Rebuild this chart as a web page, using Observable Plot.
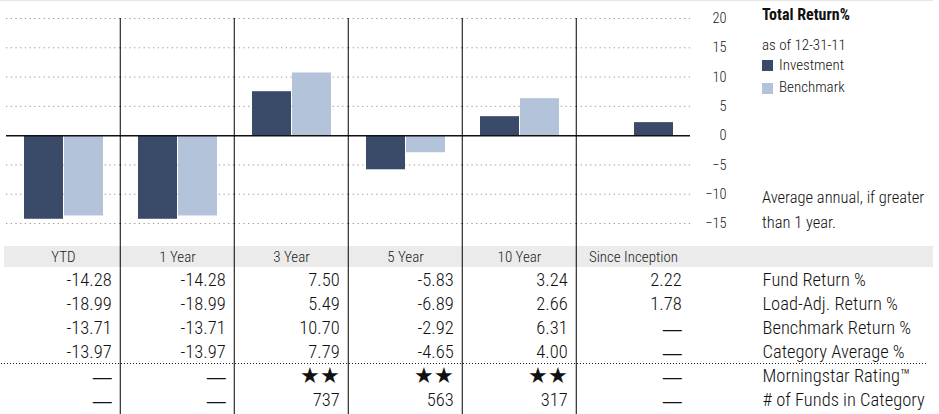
<!DOCTYPE html>
<html>
<head>
<meta charset="utf-8">
<script src="https://cdn.jsdelivr.net/npm/d3@7"></script>
<script src="https://cdn.jsdelivr.net/npm/@observablehq/plot@0.6"></script>
<style>
  body { margin: 0; background: #fff; }
  #wrap { position: relative; width: 939px; height: 414px; overflow: hidden;
          font-family: "Roboto Condensed", "Roboto", sans-serif; font-weight: 300; color: #111; }
  #chart, #table { position: absolute; left: 0; }
  #chart { top: 0; }
  #table { top: 246px; }
  .topline { position: absolute; left: 0; top: 0; width: 933px; height: 1px; background: #e6e6e6; }
  .hdr { position: absolute; left: 4px; top: 246px; width: 929px; height: 21px; background: #ebebeb; }
  .lg { position: absolute; left: 762px; white-space: nowrap; line-height: 1; }
  .sw { position: absolute; left: 762px; width: 11px; height: 11px; }
</style>
</head>
<body>
<div id="wrap">
  <div class="topline"></div>
  <div class="hdr"></div>
  <div id="chart"></div>
  <div id="table"></div>
  <div id="legend"></div>
</div>
<script>
const periods = ["YTD", "1 Year", "3 Year", "5 Year", "10 Year", "Since Inception"];
const investment = [-14.28, -14.28, 7.50, -5.83, 3.24, 2.22];
const benchmark = [-13.71, -13.71, 10.70, -2.92, 6.31, null];
const loadAdj = [-18.99, -18.99, 5.49, -6.89, 2.66, 1.78];
const categoryAvg = [-13.97, -13.97, 7.79, -4.65, 4.00, null];
const rating = [null, null, 2, 2, 2, null];
const fundCount = [null, null, 737, 563, 317, null];
const rowLabels = ["Fund Return %", "Load-Adj. Return %", "Benchmark Return %", "Category Average %", "Morningstar Rating™", "# of Funds in Category"];
const series = ["Investment", "Benchmark"];
const colors = ["#3a4a69", "#b3c3d9"];
const yTicks = [-15, -10, -5, 0, 5, 10, 15, 20];

const font = '"Roboto Condensed", "Roboto", sans-serif';
const bw = (939 - 4 - 248) / periods.length;

// bars: when there is no benchmark the investment bar sits in the second slot
const bars = periods.flatMap((p, i) => [
  {period: p, series: "Investment", value: investment[i], slot: benchmark[i] == null ? "b" : "a"},
  {period: p, series: "Benchmark", value: benchmark[i], slot: "b"}
]).filter(d => d.value != null);

const chart = Plot.plot({
  width: 939,
  height: 246,
  marginLeft: 4,
  marginRight: 248,
  marginTop: 18,
  marginBottom: 23,
  style: {background: "transparent", fontFamily: font, fontWeight: 300},
  fx: {domain: periods, padding: 0, axis: null},
  x: {domain: ["a", "b"], paddingInner: 0.025, paddingOuter: 0.41, axis: null},
  y: {domain: [-15, 20]},
  color: {domain: series, range: colors},
  marks: [
    Plot.ruleY(yTicks.filter(d => d !== 0), {stroke: "#9a9a9a", strokeDasharray: "1.3,3.4"}),
    Plot.barY(bars, {fx: "period", x: "slot", y: "value", fill: "series"}),
    Plot.ruleY([0], {stroke: "#111", strokeWidth: 1.5}),
    Plot.ruleX(periods.slice(1), {fx: d => d, x: null, dx: -bw / 2, stroke: "#000", insetBottom: -23}),
    Plot.axisY(yTicks, {anchor: "right", tickSize: 0, tickPadding: 36, textAnchor: "end", fontSize: 14.5, fill: "#222", label: null})
  ]
});
d3.select("#chart").append(() => chart);

const pct = v => v == null ? "—" : v.toFixed(2);
const stars = v => v == null ? "—" : "★".repeat(v);
const count = v => v == null ? "—" : String(v);
const rows = [investment, loadAdj, benchmark, categoryAvg, rating, fundCount];
const fmts = [pct, pct, pct, pct, stars, count];
const cells = rowLabels.flatMap((r, j) => periods.map((p, i) => ({row: r, period: p, label: fmts[j](rows[j][i])})));
const isDash = d => d.label === "—";
const isStar = d => d.label.startsWith("★");

const cellText = {x: "period", y: "row", text: "label", textAnchor: "end", dx: bw / 2 - 9, fill: "#111"};

const table = Plot.plot({
  width: 939,
  height: 168,
  marginLeft: 4,
  marginRight: 248,
  marginTop: 0,
  marginBottom: 0,
  style: {background: "transparent", fontFamily: font, fontWeight: 300},
  x: {type: "band", domain: periods, padding: 0, axis: null},
  y: {type: "point", domain: rowLabels, range: [32, 155], padding: 0, axis: null},
  marks: [
    Plot.text(periods, {x: d => d, text: d => d, frameAnchor: "top", lineAnchor: "middle", dy: 10.5, fontSize: 15, fill: "#222"}),
    Plot.text(cells.filter(d => !isDash(d) && !isStar(d)), {...cellText, fontSize: 18.5}),
    // the em dash of Roboto is short, take a font with a full-width one
    Plot.text(cells.filter(isDash), {...cellText, fontSize: 19, fontFamily: "Liberation Sans"}),
    Plot.text(cells.filter(isStar), {...cellText, fontSize: 21.5, fontFamily: "DejaVu Sans"}),
    Plot.text(rowLabels, {y: d => d, text: d => d, frameAnchor: "right", dx: 71, textAnchor: "start", fontSize: 18.5, fill: "#111"}),
    Plot.ruleY([rowLabels[4]], {dy: -13, insetLeft: -3, insetRight: -236, stroke: "#222", strokeDasharray: "1,2"}),
    Plot.ruleX(periods.slice(1), {x: d => d, dx: -bw / 2, stroke: "#000"})
  ]
});
d3.select("#table").append(() => table);

// legend and notes
const legend = d3.select("#legend");
legend.append("div").attr("class", "lg").style("top", "7px").style("font-size", "16px").style("font-weight", "bold").text("Total Return%");
legend.append("div").attr("class", "lg").style("top", "37.5px").style("font-size", "15px").text("as of 12-31-11");
series.forEach((s, i) => {
  const top = 60 + i * 22.7;
  legend.append("div").attr("class", "sw").style("top", top + "px").style("background", colors[i]);
  legend.append("div").attr("class", "lg").style("left", "779px").style("top", (top - 2.5) + "px").style("font-size", "15px").text(s);
});
legend.append("div").attr("class", "lg").style("top", "189.5px").style("font-size", "16.5px").text("Average annual, if greater");
legend.append("div").attr("class", "lg").style("top", "214.5px").style("font-size", "16.5px").text("than 1 year.");
</script>
</body>
</html>
